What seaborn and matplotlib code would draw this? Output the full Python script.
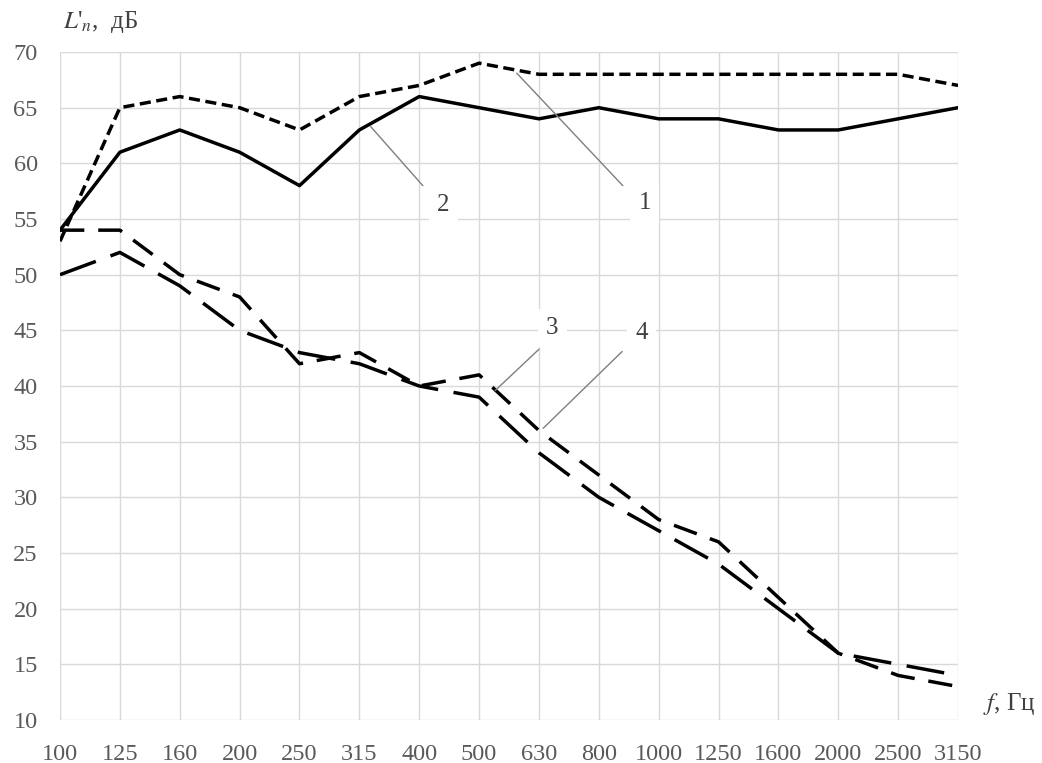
import numpy as np
import pandas as pd
import matplotlib
matplotlib.use('Agg')
import matplotlib.pyplot as plt
import seaborn as sns

# frequency bands (Hz) and levels L'n (dB)
freqs = ['100', '125', '160', '200', '250', '315', '400', '500',
         '630', '800', '1000', '1250', '1600', '2000', '2500', '3150']
curve_1 = [53, 65, 66, 65, 63, 66, 67, 69, 68, 68, 68, 68, 68, 68, 68, 67]
curve_2 = [54, 61, 63, 61, 58, 63, 66, 65, 64, 65, 64, 64, 63, 63, 64, 65]
curve_3 = [50, 52, 49, 45, 43, 42, 40, 39, 34, 30, 27, 24, 20, 16, 15, 14]
curve_4 = [54, 54, 50, 48, 42, 43, 40, 41, 36, 32, 28, 26, 21, 16, 14, 13]
curve_names = ['1', '2', '3', '4']
y_ticks = list(range(10, 71, 5))

# build a long table for seaborn
pos = np.arange(len(freqs))
frames = []
for name, vals in zip(curve_names, [curve_1, curve_2, curve_3, curve_4]):
    frames.append(pd.DataFrame({'pos': pos, 'L': vals, 'curve': name}))
df = pd.concat(frames, ignore_index=True)

sns.set_theme(style='white')
plt.rcParams['font.family'] = ['Liberation Serif', 'DejaVu Serif']
plt.rcParams['mathtext.fontset'] = 'stix'

fig = plt.figure(figsize=(10.42, 7.63), dpi=100)
ax = fig.add_axes([0.0576, 0.0564, 0.8618, 0.8754])

# line styles: 1 short dash, 2 solid, 3 long dash, 4 dash
dashes = {'1': (3.2, 1.6), '2': '', '3': (11, 4.5), '4': (7, 4)}
sns.lineplot(data=df, x='pos', y='L', hue='curve', style='curve',
             palette={n: 'black' for n in curve_names}, dashes=dashes,
             linewidth=2.5, legend=False, ax=ax)

ax.set_xlim(0, len(freqs) - 1)
ax.set_ylim(10, 70)
ax.set_xticks(pos)
ax.set_xticklabels(freqs)
ax.set_yticks(y_ticks)
ax.set_xlabel('')
ax.set_ylabel('')
ax.grid(True, color='#d9d9d9', linewidth=1)
for s in ax.spines.values():
    s.set_visible(False)
ax.tick_params(axis='both', length=0, labelsize=17.5, labelcolor='#595959')
ax.tick_params(axis='y', pad=16)
ax.tick_params(axis='x', pad=17)

# leader lines with curve numbers
leaders = [
    ('1', (7.63, 68.1), (9.40, 58.0), (9.77, 56.4)),
    ('2', (5.19, 63.3), (6.06, 58.0), (6.40, 56.3)),
    ('3', (7.27, 39.6), (8.00, 43.3), (8.22, 45.2)),
    ('4', (8.07, 36.2), (9.39, 43.1), (9.72, 44.8)),
]
for lab, tip, end, txt in leaders:
    ax.annotate('', xy=tip, xytext=end,
                arrowprops=dict(arrowstyle='-', color='#7f7f7f', lw=1,
                                shrinkA=0, shrinkB=0))
    ax.text(txt[0], txt[1], lab, fontsize=18, color='#404040',
            ha='center', va='center',
            bbox=dict(facecolor='white', edgecolor='none', pad=6))

fig.text(0.060, 0.971, r"$L$'$_n$,  дБ", fontsize=18, color='#404040',
         ha='left', va='center')
fig.text(0.943, 0.077, r"$f$, Гц", fontsize=18, color='#404040',
         ha='left', va='center')

fig.savefig('out.png', dpi=100, facecolor='white')
